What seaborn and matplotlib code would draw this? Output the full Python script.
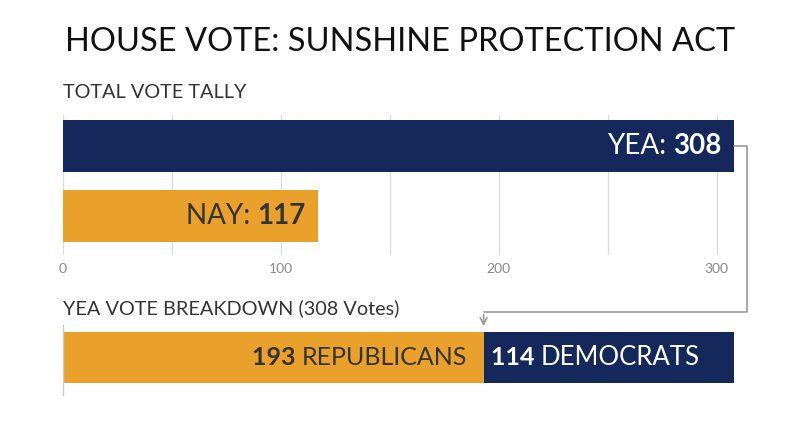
import matplotlib
matplotlib.use("Agg")
import matplotlib.pyplot as plt
from matplotlib.lines import Line2D
import seaborn as sns
import pandas as pd

# data
tally_labels = ["YEA", "NAY"]
tally_votes = [308, 117]
party_labels = ["REPUBLICANS", "DEMOCRATS"]
party_votes = [193, 114]
x_ticks = [0, 100, 200, 300]

navy = "#14285c"
orange = "#e9a12c"
dark = "#333333"

sns.set_theme(style="white")
plt.rcParams["font.family"] = ["Lato", "DejaVu Sans"]

fig = plt.figure(figsize=(8, 4.47), dpi=100)
fig.patch.set_facecolor("white")

fig.text(0.5, 0.905, "HOUSE VOTE: SUNSHINE PROTECTION ACT", ha="center", va="center",
         fontsize=23.5, color="#111111")
fig.text(63 / 800, 1 - 92 / 447, "TOTAL VOTE TALLY", ha="left", va="center",
         fontsize=14.3, color=dark)
fig.text(63 / 800, 1 - 308 / 447, "YEA VOTE BREAKDOWN (308 Votes)", ha="left", va="center",
         fontsize=14.3, color=dark)

# --- top: total tally ---
ax1 = fig.add_axes([63 / 800, (447 - 255) / 447, 693 / 800, 140 / 447])
df1 = pd.DataFrame({"vote": tally_labels, "n": tally_votes})
sns.barplot(data=df1, x="n", y="vote", hue="vote", palette=[navy, orange],
            width=0.74, orient="h", legend=False, ax=ax1, saturation=1, linewidth=0)
ax1.set_xlim(0, 318)
ax1.set_ylim(1.557, -0.443)
ax1.set_xticks(range(0, 301, 50))
ax1.set_xticklabels([str(t) if t in x_ticks else "" for t in range(0, 301, 50)])
ax1.tick_params(axis="x", length=0, pad=6, labelsize=10, labelcolor="#888888")
ax1.set_yticks([])
ax1.set_xlabel("")
ax1.set_ylabel("")
ax1.grid(axis="x", color="#dddddd", linewidth=1)
ax1.set_axisbelow(True)
for s in ax1.spines.values():
    s.set_visible(False)

for i, (lab, v) in enumerate(zip(tally_labels, tally_votes)):
    col = "white" if i == 0 else dark
    num = ax1.annotate(str(v), (v, i), xytext=(-9, 0), textcoords="offset points",
                       ha="right", va="center", fontsize=20, color=col, fontweight="bold")
    fig.canvas.draw()
    bb = num.get_window_extent()
    ax1.annotate(f"{lab}: ", (bb.x0, (bb.y0 + bb.y1) / 2), xycoords="figure pixels",
                 ha="right", va="center", fontsize=20, color=col)

# --- bottom: yea breakdown (stacked) ---
ax2 = fig.add_axes([63 / 800, (447 - 395) / 447, 693 / 800, 70 / 447])
sns.barplot(x=[tally_votes[0]], y=["yea"], color=navy, width=0.8, orient="h", ax=ax2,
            saturation=1, linewidth=0)
sns.barplot(x=[party_votes[0]], y=["yea"], color=orange, width=0.8, orient="h", ax=ax2,
            saturation=1, linewidth=0)
ax2.set_xlim(0, 318)
ax2.set_ylim(0.588, -0.51)
ax2.set_xticks([])
ax2.set_yticks([])
ax2.set_xlabel("")
ax2.set_ylabel("")
for k, s in ax2.spines.items():
    s.set_visible(k == "left")
ax2.spines["left"].set_color("#cccccc")
ax2.spines["left"].set_linewidth(1)

fig.canvas.draw()
t = ax2.annotate(party_labels[0], (party_votes[0], 0), xytext=(-12, 0), textcoords="offset points",
                 ha="right", va="center", fontsize=18, color=dark)
fig.canvas.draw()
bb = t.get_window_extent()
ax2.annotate(f"{party_votes[0]} ", (bb.x0, (bb.y0 + bb.y1) / 2), xycoords="figure pixels",
             ha="right", va="center", fontsize=18, color=dark, fontweight="bold")
t = ax2.annotate(f"{party_votes[1]} ", (party_votes[0], 0), xytext=(5, 0), textcoords="offset points",
                 ha="left", va="center", fontsize=18, color="white", fontweight="bold")
fig.canvas.draw()
bb = t.get_window_extent()
ax2.annotate(party_labels[1], (bb.x1, (bb.y0 + bb.y1) / 2), xycoords="figure pixels",
             ha="left", va="center", fontsize=18.5, color="white")

# connector from YEA bar to breakdown
p1 = ax1.transData.transform((tally_votes[0], 0))
p2 = ax2.transData.transform((party_votes[0], -0.4))
x_r = p1[0] + 13
y_mid = p2[1] + 20
inv = fig.transFigure.inverted()
pts = inv.transform([[p1[0], p1[1]], [x_r, p1[1]], [x_r, y_mid], [p2[0], y_mid]])
fig.add_artist(Line2D(pts[:, 0], pts[:, 1], color="#999999", linewidth=1.2))
ax2.annotate("", xy=(p2[0], p2[1] + 3), xycoords="figure pixels",
             xytext=(p2[0], y_mid), textcoords="figure pixels",
             arrowprops=dict(arrowstyle="->", color="#999999", lw=1.2))

fig.savefig("out.png", dpi=100, facecolor="white")
